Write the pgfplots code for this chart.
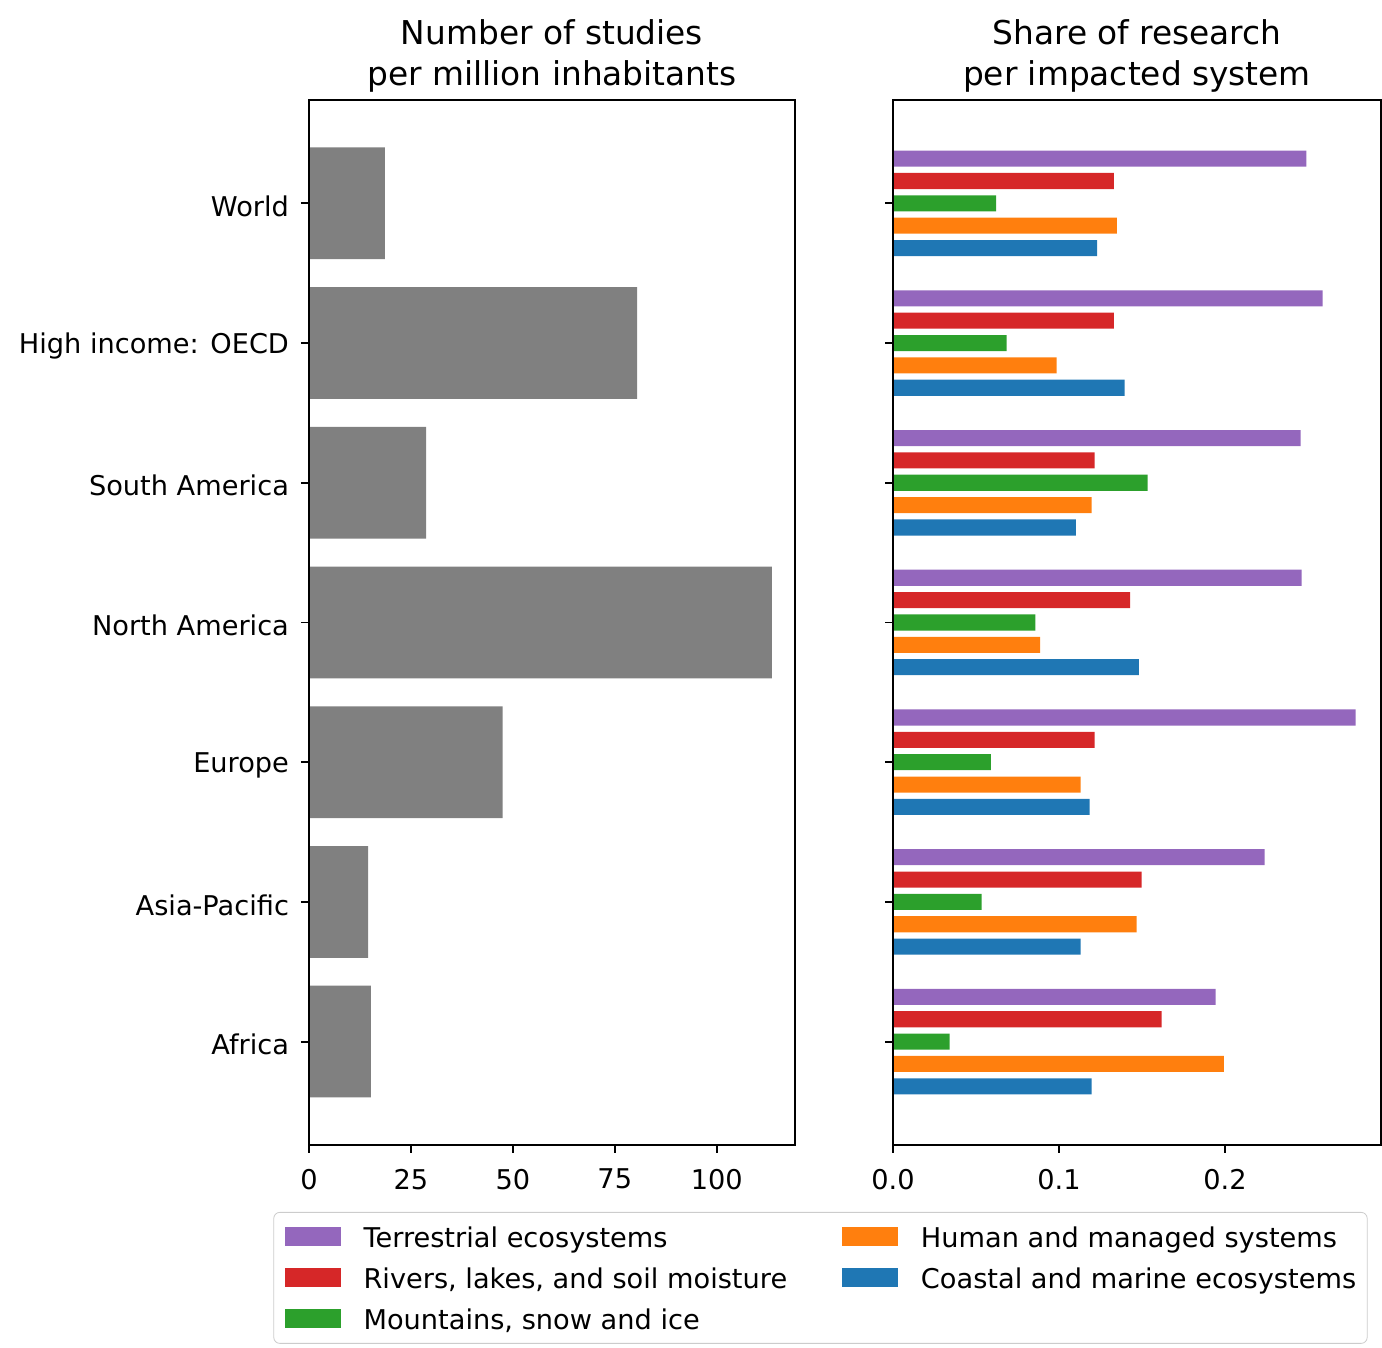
\documentclass[border=0pt]{standalone}
\usepackage{pgfplots}
\pgfplotsset{compat=1.18}
\usepackage{fontspec}
\setmainfont{DejaVu Sans}
\definecolor{tpurple}{HTML}{9467BD}
\definecolor{tred}{HTML}{D62728}
\definecolor{tgreen}{HTML}{2CA02C}
\definecolor{torange}{HTML}{FF7F0E}
\definecolor{tblue}{HTML}{1F77B4}
\definecolor{tgray}{HTML}{808080}
\newcommand{\ticksize}{\fontsize{13.6}{16}\selectfont}
\newcommand{\titlesize}{\fontsize{16.4}{20.5}\selectfont}
\pgfplotsset{
  common/.style={
    scale only axis, anchor=south west,
    height=522.5pt,
    ymin=-0.74, ymax=6.74, ytick={0,...,6},
    tick align=outside, major tick length=4pt, tick pos=left,
    axis line style={line width=0.9pt},
    every tick/.style={black, line width=0.9pt},
    tick label style={font=\ticksize},
    xticklabel style={yshift=-4.5pt},
    yticklabel style={xshift=-2.5pt, yshift=-1.5pt},
    /pgf/number format/assume math mode=true,
    title style={font=\titlesize, align=center, at={(0.5,1)}, anchor=south, inner sep=0pt, yshift=-2.4pt},
    axis on top,
  }
}
\begin{document}
\begin{tikzpicture}
\useasboundingbox (0,0) rectangle (691pt,674pt);
\begin{axis}[common,
  at={(154.5pt,101.5pt)}, width=243pt,
  xmin=0, xmax=119.2, xtick={0,25,50,75,100},
  yticklabels={Africa,Asia-Pacific,Europe,North America,South America,High income: OECD,World},
  title={Number of studies\\per million inhabitants},
]
\addplot[xbar, bar width=0.8, bar shift=0, fill=tgray, draw=none] coordinates {
(15.2,0) (14.5,1) (47.5,2) (113.5,3) (28.7,4) (80.5,5) (18.6,6)};
\end{axis}
\begin{axis}[common,
  at={(446.5pt,101.5pt)}, width=244pt,
  xmin=0, xmax=0.294, xtick={0,0.1,0.2}, xticklabels={0.0,0.1,0.2},
  yticklabels={},
  title={Share of research\\per impacted system},
  legend columns=2,
  legend cell align=left,
  legend style={at={(-0.1486,-0.0641)}, anchor=north, draw=black!20, rounded corners=3pt,
    font=\ticksize, inner xsep=5.5pt, inner ysep=5.75pt, row sep=7.5pt,
    nodes={inner sep=0pt, text height=12pt, text depth=1pt},
    /tikz/every odd column/.style={column sep=11.5pt},
    /tikz/every even column/.style={column sep=27.5pt}},
]
\addplot[xbar, bar width=0.115, bar shift=0.32, fill=tpurple, draw=none, forget plot] coordinates {
(0.1944,0) (0.2239,1) (0.2787,2) (0.2462,3) (0.2456,4) (0.2589,5) (0.2490,6)};
\addplot[xbar, bar width=0.115, bar shift=0.16, fill=tred, draw=none, forget plot] coordinates {
(0.1619,0) (0.1498,1) (0.1215,2) (0.1429,3) (0.1215,4) (0.1330,5) (0.1330,6)};
\addplot[xbar, bar width=0.115, bar shift=0, fill=tgreen, draw=none, forget plot] coordinates {
(0.0341,0) (0.0534,1) (0.0589,2) (0.0857,3) (0.1534,4) (0.0685,5) (0.0622,6)};
\addplot[xbar, bar width=0.115, bar shift=-0.16, fill=torange, draw=none, forget plot] coordinates {
(0.1993,0) (0.1468,1) (0.1131,2) (0.0887,3) (0.1197,4) (0.0986,5) (0.1348,6)};
\addplot[xbar, bar width=0.115, bar shift=-0.32, fill=tblue, draw=none, forget plot] coordinates {
(0.1197,0) (0.1131,1) (0.1185,2) (0.1481,3) (0.1101,4) (0.1396,5) (0.1230,6)};
\addlegendimage{legend image code/.code={\fill[tpurple, sharp corners] (0pt,-4.5pt) rectangle (27.5pt,4.5pt);}}
\addlegendentry{Terrestrial ecosystems}
\addlegendimage{legend image code/.code={\fill[torange, sharp corners] (0pt,-4.5pt) rectangle (27.5pt,4.5pt);}}
\addlegendentry{Human and managed systems}
\addlegendimage{legend image code/.code={\fill[tred, sharp corners] (0pt,-4.5pt) rectangle (27.5pt,4.5pt);}}
\addlegendentry{Rivers, lakes, and soil moisture}
\addlegendimage{legend image code/.code={\fill[tblue, sharp corners] (0pt,-4.5pt) rectangle (27.5pt,4.5pt);}}
\addlegendentry{Coastal and marine ecosystems}
\addlegendimage{legend image code/.code={\fill[tgreen, sharp corners] (0pt,-4.5pt) rectangle (27.5pt,4.5pt);}}
\addlegendentry{Mountains, snow and ice}
\end{axis}
\end{tikzpicture}
\end{document}
